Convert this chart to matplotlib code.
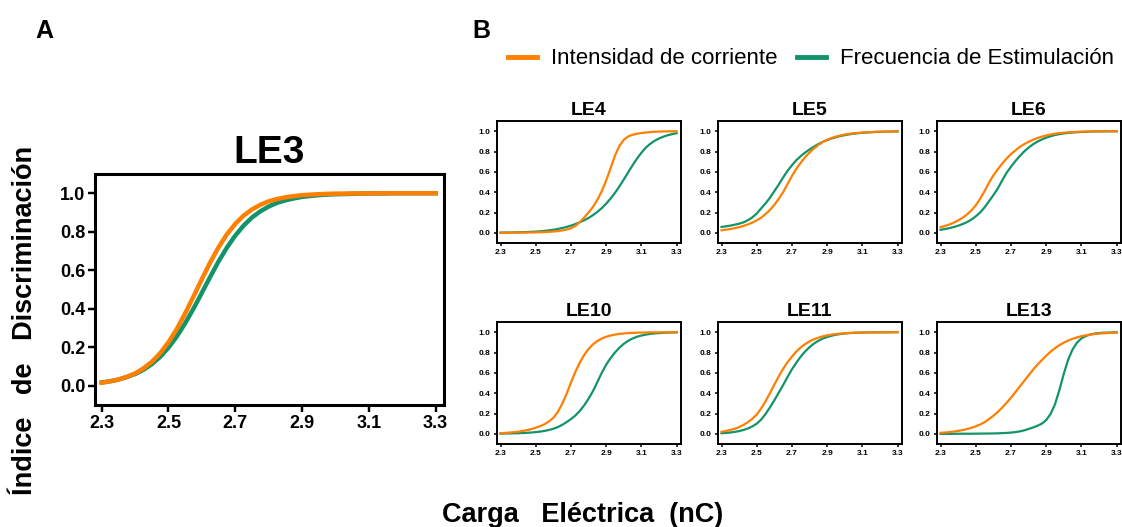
import matplotlib
matplotlib.use("Agg")
import matplotlib.pyplot as plt
from matplotlib.lines import Line2D

plt.rcParams['font.family'] = ['Liberation Sans', 'DejaVu Sans']

# charge values (nC) where the curves were read
carga = [2.300, 2.325, 2.350, 2.375, 2.400, 2.425, 2.450, 2.475, 2.500, 2.525,
         2.550, 2.575, 2.600, 2.625, 2.650, 2.675, 2.700, 2.725, 2.750, 2.775,
         2.800, 2.825, 2.850, 2.875, 2.900, 2.925, 2.950, 2.975, 3.000, 3.025,
         3.050, 3.075, 3.100, 3.125, 3.150, 3.175, 3.200, 3.225, 3.250, 3.275,
         3.300]

# panel A
le3_int = [0.016, 0.023, 0.032, 0.046, 0.064, 0.090, 0.124, 0.169, 0.226, 0.295,
           0.376, 0.464, 0.554, 0.641, 0.719, 0.787, 0.841, 0.884, 0.916, 0.940,
           0.958, 0.970, 0.979, 0.985, 0.990, 0.993, 0.995, 0.997, 0.998, 0.998,
           0.999, 0.999, 0.999, 1.0, 1.0, 1.0, 1.0, 1.0, 1.0, 1.0, 1.0]
le3_frec = [0.017, 0.023, 0.032, 0.045, 0.061, 0.083, 0.112, 0.150, 0.198, 0.256,
            0.325, 0.401, 0.483, 0.566, 0.646, 0.718, 0.780, 0.832, 0.874, 0.906,
            0.931, 0.950, 0.963, 0.973, 0.981, 0.986, 0.990, 0.993, 0.995, 0.996,
            0.997, 0.998, 0.999, 0.999, 0.999, 1.0, 1.0, 1.0, 1.0, 1.0, 1.0]

# panel B
le4_int = [0.000, 0.001, 0.001, 0.002, 0.002, 0.003, 0.003, 0.004, 0.005, 0.006,
           0.008, 0.010, 0.013, 0.017, 0.023, 0.032, 0.045, 0.068, 0.105, 0.150,
           0.200, 0.255, 0.325, 0.410, 0.515, 0.635, 0.760, 0.855, 0.915, 0.948,
           0.965, 0.975, 0.982, 0.987, 0.991, 0.994, 0.996, 0.997, 0.998, 0.999,
           0.999]
le4_frec = [0.002, 0.003, 0.003, 0.004, 0.005, 0.006, 0.008, 0.010, 0.012, 0.015,
            0.019, 0.024, 0.030, 0.038, 0.047, 0.058, 0.071, 0.086, 0.104, 0.124,
            0.146, 0.174, 0.206, 0.243, 0.287, 0.337, 0.393, 0.456, 0.525, 0.595,
            0.665, 0.730, 0.788, 0.838, 0.875, 0.905, 0.928, 0.946, 0.960, 0.971,
            0.980]
le5_int = [0.025, 0.031, 0.038, 0.046, 0.056, 0.068, 0.083, 0.101, 0.123, 0.149,
           0.185, 0.225, 0.275, 0.335, 0.400, 0.480, 0.560, 0.630, 0.690, 0.745,
           0.790, 0.830, 0.865, 0.893, 0.915, 0.933, 0.947, 0.958, 0.967, 0.974,
           0.979, 0.983, 0.986, 0.989, 0.991, 0.993, 0.994, 0.995, 0.996, 0.997,
           0.998]
le5_frec = [0.058, 0.064, 0.071, 0.080, 0.090, 0.103, 0.124, 0.152, 0.190, 0.240,
            0.290, 0.345, 0.410, 0.475, 0.545, 0.610, 0.665, 0.715, 0.755, 0.790,
            0.820, 0.848, 0.873, 0.895, 0.913, 0.928, 0.941, 0.952, 0.961, 0.969,
            0.975, 0.980, 0.984, 0.987, 0.990, 0.992, 0.993, 0.995, 0.996, 0.997,
            0.998]
le6_int = [0.055, 0.067, 0.082, 0.100, 0.122, 0.148, 0.180, 0.220, 0.270, 0.335,
           0.410, 0.492, 0.565, 0.625, 0.680, 0.730, 0.775, 0.810, 0.845, 0.872,
           0.895, 0.915, 0.932, 0.946, 0.958, 0.967, 0.975, 0.981, 0.985, 0.989,
           0.991, 0.993, 0.995, 0.996, 0.997, 0.998, 0.998, 0.999, 0.999, 0.999,
           1.0]
le6_frec = [0.030, 0.037, 0.046, 0.057, 0.070, 0.086, 0.105, 0.130, 0.162, 0.200,
            0.250, 0.310, 0.370, 0.435, 0.515, 0.590, 0.650, 0.705, 0.755, 0.800,
            0.838, 0.870, 0.897, 0.918, 0.936, 0.950, 0.962, 0.971, 0.978, 0.983,
            0.987, 0.990, 0.992, 0.994, 0.996, 0.997, 0.998, 0.998, 0.999, 0.999,
            0.999]
le10_int = [0.006, 0.009, 0.012, 0.016, 0.021, 0.028, 0.036, 0.047, 0.060, 0.075,
            0.095, 0.122, 0.158, 0.215, 0.295, 0.392, 0.505, 0.610, 0.700, 0.775,
            0.835, 0.880, 0.913, 0.937, 0.955, 0.967, 0.976, 0.983, 0.987, 0.991,
            0.993, 0.995, 0.996, 0.997, 0.998, 0.998, 0.999, 0.999, 0.999, 1.0,
            1.0]
le10_frec = [0.002, 0.003, 0.004, 0.005, 0.006, 0.008, 0.010, 0.013, 0.017, 0.022,
             0.029, 0.038, 0.050, 0.066, 0.088, 0.115, 0.145, 0.180, 0.225, 0.280,
             0.345, 0.420, 0.510, 0.600, 0.680, 0.745, 0.800, 0.847, 0.885, 0.915,
             0.938, 0.955, 0.967, 0.976, 0.983, 0.988, 0.991, 0.994, 0.996, 0.997,
             0.998]
le11_int = [0.020, 0.028, 0.038, 0.050, 0.066, 0.088, 0.115, 0.148, 0.190, 0.250,
            0.320, 0.400, 0.485, 0.565, 0.640, 0.705, 0.760, 0.810, 0.850, 0.883,
            0.910, 0.930, 0.946, 0.959, 0.968, 0.976, 0.982, 0.986, 0.989, 0.992,
            0.994, 0.995, 0.996, 0.997, 0.998, 0.998, 0.999, 0.999, 0.999, 1.0,
            1.0]
le11_frec = [0.006, 0.009, 0.013, 0.019, 0.027, 0.038, 0.053, 0.073, 0.100, 0.140,
             0.195, 0.260, 0.330, 0.405, 0.480, 0.560, 0.635, 0.700, 0.760, 0.810,
             0.853, 0.888, 0.915, 0.937, 0.953, 0.965, 0.975, 0.982, 0.987, 0.991,
             0.993, 0.995, 0.996, 0.997, 0.998, 0.998, 0.999, 0.999, 0.999, 1.0,
             1.0]
le13_int = [0.010, 0.013, 0.017, 0.022, 0.029, 0.037, 0.047, 0.059, 0.074, 0.092,
            0.114, 0.145, 0.178, 0.215, 0.258, 0.305, 0.355, 0.410, 0.465, 0.520,
            0.575, 0.630, 0.680, 0.725, 0.768, 0.808, 0.842, 0.872, 0.897, 0.918,
            0.935, 0.949, 0.960, 0.969, 0.976, 0.982, 0.986, 0.989, 0.992, 0.994,
            0.995]
le13_frec = [0.000, 0.000, 0.000, 0.000, 0.001, 0.001, 0.001, 0.001, 0.002, 0.002,
             0.003, 0.003, 0.004, 0.005, 0.007, 0.009, 0.012, 0.017, 0.024, 0.034,
             0.048, 0.062, 0.079, 0.100, 0.135, 0.195, 0.290, 0.430, 0.590, 0.730,
             0.830, 0.897, 0.938, 0.962, 0.977, 0.986, 0.991, 0.994, 0.996, 0.997,
             0.998]

titulos_b = ['LE4', 'LE5', 'LE6', 'LE10', 'LE11', 'LE13']
series_int = [le4_int, le5_int, le6_int, le10_int, le11_int, le13_int]
series_frec = [le4_frec, le5_frec, le6_frec, le10_frec, le11_frec, le13_frec]

xticks = [2.3, 2.5, 2.7, 2.9, 3.1, 3.3]
yticks = [0.0, 0.2, 0.4, 0.6, 0.8, 1.0]

naranja = '#FF7F00'
verde = '#12936A'

W, H = 1122, 527
fig = plt.figure(figsize=(W / 100, H / 100), dpi=100)


def box(left, top, width, height):
    # pixel box -> figure fraction
    return [left / W, 1 - (top + height) / H, width / W, height / H]


def style_axes(ax, lw, ticklen, labelsize):
    ax.set_xlim(2.28, 3.325)
    ax.set_ylim(-0.1, 1.1)
    ax.set_xticks(xticks)
    ax.set_yticks(yticks)
    ax.set_xticklabels([f'{t:.1f}' for t in xticks])
    ax.set_yticklabels([f'{t:.1f}' for t in yticks])
    for s in ax.spines.values():
        s.set_linewidth(lw)
    ax.tick_params(direction='out', length=ticklen, width=lw * 0.8,
                   labelsize=labelsize, pad=2)
    for lab in ax.get_xticklabels() + ax.get_yticklabels():
        lab.set_fontweight('bold')


# panel A
axA = fig.add_axes(box(95, 174, 349, 231))
axA.plot(carga, le3_frec, color=verde, lw=3.2)
axA.plot(carga, le3_int, color=naranja, lw=3.2)
style_axes(axA, 2.2, 5, 13)
axA.set_title('LE3', fontsize=28, fontweight='bold', pad=8)

# panel B
lefts = [497, 718, 937]
tops = [121, 322]
for i, titulo in enumerate(titulos_b):
    ax = fig.add_axes(box(lefts[i % 3], tops[i // 3], 184, 122))
    ax.plot(carga, series_frec[i], color=verde, lw=1.6)
    ax.plot(carga, series_int[i], color=naranja, lw=1.6)
    style_axes(ax, 1.4, 2.5, 6)
    ax.set_title(titulo, fontsize=14, fontweight='bold', pad=4)

fig.text(35 / W, 1 - 38 / H, 'A', fontsize=18, fontweight='bold')
fig.text(472 / W, 1 - 38 / H, 'B', fontsize=18, fontweight='bold')

fig.text(25 / W, 1 - 320 / H, 'Índice   de   Discriminación', rotation=90,
         ha='center', va='center', fontsize=19.5, fontweight='bold')
fig.text(583 / W, 1 - 515 / H, 'Carga   Eléctrica  (nC)',
         ha='center', va='center', fontsize=19.5, fontweight='bold')

handles = [Line2D([], [], color=naranja, lw=3.5),
           Line2D([], [], color=verde, lw=3.5)]
fig.legend(handles, ['Intensidad de corriente', 'Frecuencia de Estimulación'],
           loc='center left', bbox_to_anchor=(508 / W, 1 - 59 / H), ncol=2,
           frameon=False, fontsize=16, handlelength=1.3, handletextpad=0.65,
           columnspacing=0.85, borderaxespad=0, borderpad=0)

fig.savefig('out.png', dpi=100)
